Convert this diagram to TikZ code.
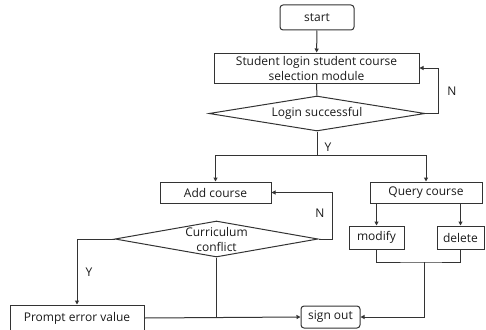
\documentclass[tikz,border=0pt]{standalone}
\usepackage{fontspec}
\setmainfont{Open Sans}
\usetikzlibrary{shapes.geometric,arrows.meta}
\definecolor{linegray}{HTML}{333333}
\definecolor{txt}{HTML}{1A1A1A}
\begin{document}
\begin{tikzpicture}[x=1pt,y=-1pt,
  font=\fontsize{12}{15}\selectfont, text=txt,
  box/.style={draw=linegray, line width=1pt, rectangle, inner sep=0pt, align=center},
  rbox/.style={box, rounded corners=3pt},
  dia/.style={draw=linegray, line width=1pt, diamond, inner sep=0pt},
  flow/.style={draw=linegray, line width=1pt},
  arr/.style={flow, -{Triangle[length=4pt,width=4pt]}},
  lab/.style={inner sep=0pt}]
\useasboundingbox (0,0) rectangle (486,329);

% process boxes
\node[rbox, minimum width=74pt, minimum height=25pt] (start) at (317,17.5) {start};
\node[box, minimum width=205pt, minimum height=30pt] (login) at (316.5,68)
  {Student login student course\\selection module};
\node[dia, minimum width=216pt, minimum height=35pt,
  label={[lab]center:Login successful}] (ok) at (317,113.5) {};
\node[box, minimum width=111pt, minimum height=21pt] (add) at (215.5,192.5) {Add course};
\node[box, minimum width=112pt, minimum height=21pt] (query) at (426,192.5) {Query course};
\node[dia, minimum width=203pt, minimum height=36pt,
  label={[lab, align=center]center:Curriculum\\conflict}] (conf) at (216.5,239) {};
\node[box, minimum width=55pt, minimum height=23pt] (modify) at (376.5,237.5) {modify};
\node[box, minimum width=47pt, minimum height=23pt] (delete) at (460.5,237.5) {delete};
\node[box, minimum width=134pt, minimum height=26pt] (prompt) at (77,318) {Prompt error value};
\node[rbox, minimum width=59pt, minimum height=22pt] (out) at (330.5,317) {sign out};

% helper points
\coordinate (split) at (317,155);
\coordinate (nloop) at (438,113.5);
\coordinate (cloop) at (332,239);
\coordinate (merge) at (424,262);

% connectors
\draw[arr] (start) -- (login);
\draw[flow] (login) -- (ok);
\draw[arr] (ok.east) -- (nloop) |- (login.east);
\draw[flow] (ok.south) -- (split);
\draw[arr] (split) -| (add.north);
\draw[arr] (split) -| (query.north);
\draw[arr] (conf.east) -- (cloop) |- (add.east);
\draw[arr] (conf.west) -| (prompt.north);
\draw[arr] (prompt.east) -- (out.west);
\draw[flow] (conf.south) -- (conf.south |- out.west);
\draw[arr] (modify.north |- query.south) -- (modify.north);
\draw[arr] (delete.north |- query.south) -- (delete.north);
\draw[flow] (modify.south) |- (merge) -| (delete.south);
\draw[arr] (merge) |- (out.east);

% branch labels
\node[lab] (n1) at (452,91) {N};
\node[lab] (y1) at (328,147) {Y};
\node[lab] (n2) at (320,213) {N};
\node[lab] (y2) at (89,272) {Y};
\end{tikzpicture}
\end{document}
